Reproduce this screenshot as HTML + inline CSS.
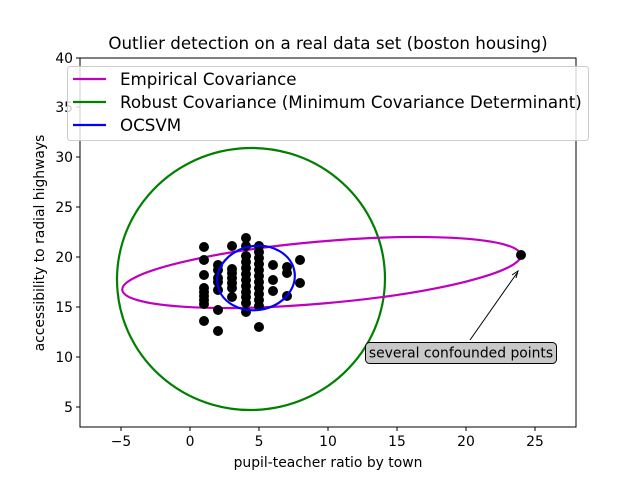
<!DOCTYPE html>
<html><head><meta charset="utf-8"><style>body{margin:0;background:#fff}svg{display:block}text{font-family:"DejaVu Sans","Liberation Sans",sans-serif;fill:#000}</style></head><body>
<svg width="640" height="480" viewBox="0 0 640 480">
<rect width="640" height="480" fill="#fff"/>
<defs><clipPath id="c"><rect x="80" y="58" width="496" height="369"/></clipPath></defs>
<g clip-path="url(#c)">
<ellipse cx="251" cy="279" rx="134" ry="131" transform="rotate(-5 251 279)" fill="none" stroke="#008000" stroke-width="2.2"/>
<ellipse cx="321.5" cy="272.5" rx="200" ry="31" transform="rotate(-5 321.5 272.5)" fill="none" stroke="#bf00bf" stroke-width="2.2"/>
<g fill="#000">
<circle cx="204" cy="247" r="5"/><circle cx="204" cy="260" r="5"/><circle cx="204" cy="275" r="5"/><circle cx="204" cy="288" r="5"/><circle cx="204" cy="292" r="5"/><circle cx="204" cy="296" r="5"/><circle cx="204" cy="300" r="5"/><circle cx="204" cy="304" r="5"/><circle cx="204" cy="321" r="5"/>
<circle cx="218" cy="265" r="5"/><circle cx="218" cy="270" r="5"/><circle cx="218" cy="278" r="5"/><circle cx="218" cy="282" r="5"/><circle cx="218" cy="290" r="5"/><circle cx="218" cy="310" r="5"/><circle cx="218" cy="331" r="5"/>
<circle cx="232" cy="246" r="5"/><circle cx="232" cy="269" r="5"/><circle cx="232" cy="273" r="5"/><circle cx="232" cy="278" r="5"/><circle cx="232" cy="283" r="5"/><circle cx="232" cy="288" r="5"/><circle cx="232" cy="297" r="5"/>
<circle cx="246" cy="238" r="5"/><circle cx="246" cy="246" r="5"/><circle cx="246" cy="256" r="5"/><circle cx="246" cy="262" r="5"/><circle cx="246" cy="268" r="5"/><circle cx="246" cy="274" r="5"/><circle cx="246" cy="280" r="5"/><circle cx="246" cy="286" r="5"/><circle cx="246" cy="292" r="5"/><circle cx="246" cy="297" r="5"/><circle cx="246" cy="303" r="5"/><circle cx="246" cy="312" r="5"/>
<circle cx="259" cy="246" r="5"/><circle cx="259" cy="252" r="5"/><circle cx="259" cy="258" r="5"/><circle cx="259" cy="264" r="5"/><circle cx="259" cy="270" r="5"/><circle cx="259" cy="276" r="5"/><circle cx="259" cy="282" r="5"/><circle cx="259" cy="288" r="5"/><circle cx="259" cy="294" r="5"/><circle cx="259" cy="300" r="5"/><circle cx="259" cy="306" r="5"/><circle cx="259" cy="327" r="5"/>
<circle cx="273" cy="265" r="5"/><circle cx="273" cy="280" r="5"/><circle cx="273" cy="291" r="5"/>
<circle cx="287" cy="267" r="5"/><circle cx="287" cy="273" r="5"/><circle cx="287" cy="296" r="5"/>
<circle cx="300" cy="260" r="5"/><circle cx="300" cy="283" r="5"/>
<circle cx="521" cy="255" r="5"/>
</g>
<ellipse cx="256" cy="278" rx="39" ry="32" transform="rotate(-10 256 278)" fill="none" stroke="#0000ff" stroke-width="2.2"/>
</g>
<rect x="80" y="58" width="496" height="369" fill="none" stroke="#000" stroke-width="1"/>
<g stroke="#000">
<line x1="121" y1="427" x2="121" y2="431"/><line x1="190" y1="427" x2="190" y2="431"/><line x1="259" y1="427" x2="259" y2="431"/><line x1="328" y1="427" x2="328" y2="431"/><line x1="397" y1="427" x2="397" y2="431"/><line x1="466" y1="427" x2="466" y2="431"/><line x1="535" y1="427" x2="535" y2="431"/>
<line x1="76" y1="407" x2="80" y2="407"/><line x1="76" y1="357" x2="80" y2="357"/><line x1="76" y1="307" x2="80" y2="307"/><line x1="76" y1="257" x2="80" y2="257"/><line x1="76" y1="207" x2="80" y2="207"/><line x1="76" y1="157" x2="80" y2="157"/><line x1="76" y1="107" x2="80" y2="107"/><line x1="76" y1="58" x2="80" y2="58"/>
</g>
<g font-size="13.9" text-anchor="middle">
<text x="121" y="446">−5</text><text x="190" y="446">0</text><text x="259" y="446">5</text><text x="328" y="446">10</text><text x="397" y="446">15</text><text x="466" y="446">20</text><text x="535" y="446">25</text>
</g>
<g font-size="13.9" text-anchor="end">
<text x="73" y="412">5</text><text x="73" y="362">10</text><text x="73" y="312">15</text><text x="73" y="262">20</text><text x="73" y="212">25</text><text x="73" y="162">30</text><text x="73" y="112">35</text><text x="73" y="63">40</text>
</g>
<text x="328" y="467" font-size="13.9" text-anchor="middle">pupil-teacher ratio by town</text>
<text transform="translate(44 243) rotate(-90)" font-size="13.9" text-anchor="middle">accessibility to radial highways</text>
<text x="328" y="49" font-size="16.7" text-anchor="middle">Outlier detection on a real data set (boston housing)</text>
<line x1="470" y1="340" x2="517" y2="273" stroke="#000" stroke-width="1"/>
<path d="M512 275 L518 271 L516 278" fill="none" stroke="#000" stroke-width="1"/>
<rect x="365.5" y="342.5" width="191" height="21" rx="4" fill="#c8c8c8" stroke="#000"/>
<text x="461" y="357.5" font-size="13.9" text-anchor="middle">several confounded points</text>
<rect x="67.5" y="66.5" width="521" height="74" rx="3" fill="#fff" fill-opacity="0.8" stroke="#ccc"/>
<line x1="73" y1="79" x2="106" y2="79" stroke="#bf00bf" stroke-width="2.2"/>
<line x1="73" y1="102" x2="106" y2="102" stroke="#008000" stroke-width="2.2"/>
<line x1="73" y1="125" x2="106" y2="125" stroke="#0000ff" stroke-width="2.2"/>
<g font-size="16.7"><text x="120" y="85">Empirical Covariance</text><text x="120" y="108">Robust Covariance (Minimum Covariance Determinant)</text><text x="120" y="131">OCSVM</text></g>
</svg>
</body></html>
